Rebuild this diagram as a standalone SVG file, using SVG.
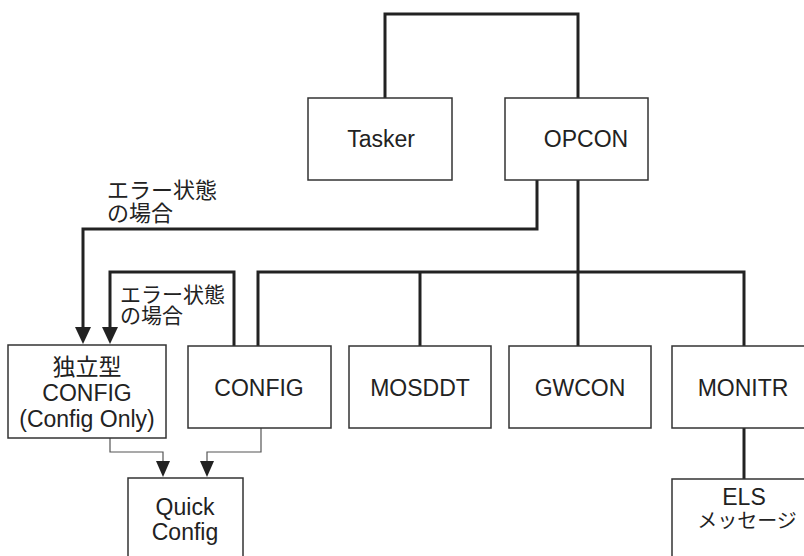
<svg xmlns="http://www.w3.org/2000/svg" width="804" height="556" viewBox="0 0 804 556">
<defs>
<style>
.box{fill:#fff;stroke:#333;stroke-width:1.5}
.t{font-family:"Liberation Sans","Noto Sans CJK JP",sans-serif;font-size:23px;fill:#222;text-anchor:middle}
.lbl{font-family:"Liberation Sans","Noto Sans CJK JP",sans-serif;font-size:22px;fill:#222}
.thick{fill:none;stroke:#222;stroke-width:3}
.thin{fill:none;stroke:#555;stroke-width:1.2}
</style>
</defs>
<rect width="804" height="556" fill="#fff"/>
<g id="connectors">
<path class="thick" d="M385,98 V14 H578 V98"/>
<path class="thick" d="M578,180 V346"/>
<path class="thick" d="M258,346 V272 H744 V346"/>
<path class="thick" d="M420,272 V346"/>
<path class="thick" d="M744,428 V479"/>
<path class="thick" d="M537,180 V229 H83 V327"/>
<polygon points="75,327 91,327 83,344" fill="#222"/>
<path class="thick" d="M234,346 V272 H110 V327"/>
<polygon points="102,327 118,327 110,344" fill="#222"/>
<path class="thin" d="M110,438 V452 H163 V462"/>
<polygon points="156,461 170,461 163,477" fill="#222"/>
<path class="thin" d="M261,428 V452 H207 V462"/>
<polygon points="200,461 214,461 207,477" fill="#222"/>
<text class="lbl" x="107" y="198">エラー状態</text>
<text class="lbl" x="107" y="221">の場合</text>
<text class="lbl" x="120" y="302" style="font-size:21px">エラー状態</text>
<text class="lbl" x="120" y="323" style="font-size:21px">の場合</text>
</g>
<g id="tasker"><rect class="box" x="308" y="98" width="144" height="82"/><text class="t" x="381" y="147">Tasker</text></g>
<g id="opcon"><rect class="box" x="505" y="98" width="143" height="82"/><text class="t" x="586" y="147">OPCON</text></g>
<g id="standalone-config"><rect class="box" x="8" y="345" width="158" height="93"/>
<text class="t" x="87" y="375">独立型</text><text class="t" x="87" y="401">CONFIG</text><text class="t" x="87" y="427">(Config Only)</text></g>
<g id="config"><rect class="box" x="188" y="346" width="143" height="82"/><text class="t" x="259" y="396">CONFIG</text></g>
<g id="mosddt"><rect class="box" x="349" y="346" width="142" height="82"/><text class="t" x="420" y="396">MOSDDT</text></g>
<g id="gwcon"><rect class="box" x="509" y="346" width="142" height="82"/><text class="t" x="580" y="396">GWCON</text></g>
<g id="monitr"><rect class="box" x="672" y="346" width="143" height="82"/><text class="t" x="743" y="396">MONITR</text></g>
<g id="els"><rect class="box" x="672" y="479" width="143" height="90"/><text class="t" x="744" y="505">ELS</text><text class="t" x="747" y="528" style="font-size:20px">メッセージ</text></g>
<g id="quick-config"><rect class="box" x="128" y="478" width="115" height="90"/><text class="t" x="185" y="515">Quick</text><text class="t" x="185" y="540">Config</text></g>
</svg>
